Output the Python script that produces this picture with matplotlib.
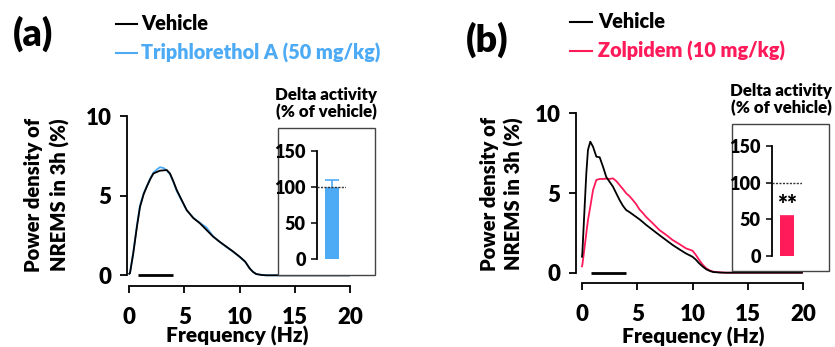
import matplotlib
matplotlib.use("Agg")
import matplotlib.pyplot as plt
from matplotlib.patches import Rectangle

plt.rcParams['font.family'] = ['Lato', 'DejaVu Sans']
WT = 'heavy'
plt.rcParams['font.weight'] = WT

# ---- data ----
freq_a = [0.0, 0.06, 0.36, 0.7, 0.97, 1.3, 1.58, 1.9, 2.18, 2.5, 2.78, 3.1, 3.39, 3.69, 4.0, 4.3, 4.7, 5.2, 5.8, 6.4, 7.0, 7.6, 8.2, 8.8, 9.4, 10.0, 10.5, 10.9, 11.2, 11.5, 12.0, 12.4, 13.0, 15.0, 17.0, 19.9]
vehicle_a = [0.1, 0.13, 1.38, 3.1, 4.3, 5.1, 5.57, 6.05, 6.4, 6.5, 6.58, 6.6, 6.62, 6.4, 5.9, 5.36, 4.8, 4.1, 3.6, 3.27, 2.85, 2.43, 2.1, 1.8, 1.5, 1.17, 0.86, 0.44, 0.22, 0.08, 0.02, 0.0, 0.0, 0.0, 0.0, 0.0]
tri_a = [0.1, 0.15, 1.45, 3.2, 4.4, 5.15, 5.6, 6.1, 6.45, 6.65, 6.8, 6.75, 6.6, 6.35, 5.85, 5.3, 4.75, 4.1, 3.62, 3.3, 3.0, 2.45, 2.1, 1.78, 1.48, 1.15, 0.85, 0.44, 0.22, 0.08, 0.02, 0.0, 0.0, 0.0, 0.0, 0.0]

freq_b = [0.0, 0.03, 0.2, 0.39, 0.54, 0.75, 1.0, 1.3, 1.6, 1.9, 2.2, 2.5, 2.8, 3.1, 3.4, 3.7, 4.0, 4.3, 4.6, 4.9, 5.2, 5.5, 5.8, 6.4, 7.0, 7.6, 8.2, 8.8, 9.4, 10.0, 10.3, 10.6, 10.9, 11.25, 11.6, 11.9, 12.5, 13.0, 15.0, 17.0, 19.9]
vehicle_b = [1.0, 1.21, 3.6, 6.23, 7.7, 8.22, 7.9, 7.28, 7.24, 6.65, 6.0, 5.7, 5.4, 4.98, 4.56, 4.2, 3.93, 3.8, 3.65, 3.5, 3.35, 3.18, 3.0, 2.68, 2.36, 2.05, 1.74, 1.47, 1.21, 1.0, 0.82, 0.59, 0.4, 0.21, 0.1, 0.04, 0.01, 0.0, 0.0, 0.0, 0.0]
zol_b = [0.4, 0.48, 1.4, 2.47, 3.3, 4.14, 5.19, 5.82, 5.88, 5.88, 5.9, 5.88, 5.92, 5.75, 5.5, 5.25, 4.98, 4.8, 4.56, 4.3, 3.97, 3.75, 3.5, 3.1, 2.68, 2.38, 2.05, 1.8, 1.53, 1.38, 1.12, 0.8, 0.52, 0.27, 0.13, 0.06, 0.02, 0.0, 0.0, 0.0, 0.0]

delta_band = [0.8, 4.0]

inset_a_value = [98]
inset_a_err = [12]
inset_b_value = [53]
inset_b_err = [2]

xticks = [0, 5, 10, 15, 20]
yticks = [0, 5, 10]
inset_ticks = [0, 50, 100, 150]

BLUE = '#4DAAF5'
PINK = '#FF1A5A'
W, H = 835, 347

fig = plt.figure(figsize=(8.35, 3.47), dpi=100)


def fx(px):
    return px / W


def fy(py):
    return 1 - py / H


def main_axes(left, right_x20, x0px, y0, y10, xoff, freq, s1, s2, c2):
    ax = fig.add_axes([fx(left), fy(y0), fx(right_x20 - left), (y0 - y10) / H])
    pxhz = (right_x20 - x0px) / 20.0
    ax.set_xlim(-(x0px - left) / pxhz, 20)
    ax.set_ylim(0, 10)
    ax.plot(freq, s2, color=c2, lw=1.3, clip_on=False, zorder=3)
    ax.plot(freq, s1, color='black', lw=1.3, clip_on=False, zorder=4)
    ax.plot(delta_band, [0, 0], color='black', lw=2.0, clip_on=False, zorder=5,
            solid_capstyle='butt')
    for s in ['top', 'right']:
        ax.spines[s].set_visible(False)
    ax.spines['bottom'].set_position(('outward', xoff))
    ax.spines['bottom'].set_bounds(0, 20)
    ax.spines['left'].set_linewidth(1.3)
    ax.spines['bottom'].set_linewidth(1.3)
    ax.set_xticks(xticks)
    ax.set_yticks(yticks)
    ax.tick_params(axis='both', labelsize=16, width=1.3, length=5)
    ax.tick_params(axis='x', direction='out', pad=10)
    ax.tick_params(axis='y', direction='out', pad=6)
    for lab in ax.get_xticklabels() + ax.get_yticklabels():
        lab.set_fontweight(WT)
    return ax


def inset(box, spine_x, right_px, y0, y150, val, err, color, stars=None):
    bl, bt, br, bb = box
    fig.patches.append(Rectangle((fx(bl), fy(bb)), fx(br - bl), (bb - bt) / H,
                                 transform=fig.transFigure, fill=True,
                                 facecolor='white', edgecolor='#444444', lw=1.0,
                                 zorder=1))
    ax = fig.add_axes([fx(spine_x), fy(y0), fx(right_px - spine_x), (y0 - y150) / H])
    ax.set_zorder(5)
    ax.patch.set_visible(False)
    # bar centred at 0 with width 0.5 (28 px per unit)
    ax.set_xlim(-0.25 - 8 / 28.0, -0.25 - 8 / 28.0 + (right_px - spine_x) / 28.0)
    ax.set_ylim(0, 150)
    ax.bar([0], val, width=0.5, color=color, zorder=2)
    ax.errorbar([0], val, yerr=[[0], err], color=color, capsize=5, lw=1.2,
                capthick=1.2, fmt='none', zorder=2)
    ax.axhline(100, color='#333333', lw=1.0, ls=(0, (1.5, 1.0)), zorder=3)
    for s in ['top', 'right', 'bottom']:
        ax.spines[s].set_visible(False)
    ax.spines['left'].set_linewidth(1.3)
    ax.set_xticks([])
    ax.set_yticks(inset_ticks)
    ax.tick_params(axis='y', labelsize=13, width=1.1, length=4, pad=4)
    for lab in ax.get_yticklabels():
        lab.set_fontweight(WT)
    if stars:
        ax.text(0, 69, stars, ha='center', va='center', fontsize=17,
                fontweight=WT)
    return ax


# ---------- panel (a) ----------
main_axes(127, 350, 129.3, 275.3, 116.3, 7.7, freq_a, vehicle_a, tri_a, BLUE)
inset((278, 128, 375, 275), 317, 346, 259, 151, inset_a_value, inset_a_err, BLUE)

# ---------- panel (b) ----------
main_axes(576, 803, 582, 272.7, 113.3, 7.3, freq_b, vehicle_b, zol_b, PINK)
inset((732, 124, 829, 271), 772, 802, 256, 146, inset_b_value, inset_b_err, PINK, stars='**')

# ---------- text ----------
def txt(x, y, s, **kw):
    fig.text(fx(x), fy(y), s, fontweight=WT, **kw)

txt(33, 34, '(a)', fontsize=27, ha='center', va='center')
txt(487, 40, '(b)', fontsize=27, ha='center', va='center')

# legends
for (x1, x2, y, tx, label, col) in [
        (116, 137, 24, 141, 'Vehicle', 'black'),
        (116, 137, 53, 141, 'Triphlorethol A (50 mg/kg)', BLUE),
        (570, 592, 21.5, 598, 'Vehicle', 'black'),
        (570, 592, 51, 598, 'Zolpidem (10 mg/kg)', PINK)]:
    fig.lines.append(plt.Line2D([fx(x1), fx(x2)], [fy(y), fy(y)], color=col, lw=1.5,
                                transform=fig.transFigure))
    txt(tx, y, label, fontsize=14.3, ha='left', va='center', color=col)

# y labels
for x1, x2, yc in [(34, 60, 195), (489, 514, 194)]:
    txt(x1, yc, 'Power density of', fontsize=14.5, rotation=90, ha='center', va='center')
    txt(x2, yc, 'NREMS in 3h (%)', fontsize=14.5, rotation=90, ha='center', va='center')

# x labels
txt(237, 336, 'Frequency (Hz)', fontsize=15, ha='center', va='center')
txt(693, 337, 'Frequency (Hz)', fontsize=15, ha='center', va='center')

# inset titles
txt(326, 95, 'Delta activity', fontsize=12.2, ha='center', va='center')
txt(326, 112, '(% of vehicle)', fontsize=12.2, ha='center', va='center')
txt(781, 91, 'Delta activity', fontsize=12.2, ha='center', va='center')
txt(781, 108, '(% of vehicle)', fontsize=12.2, ha='center', va='center')

fig.savefig('out.png', dpi=100)
